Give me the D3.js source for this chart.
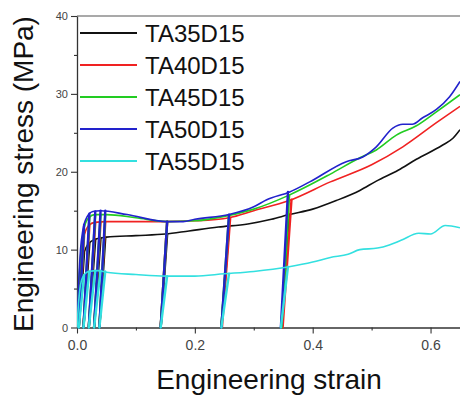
<!DOCTYPE html>
<html>
<head>
<meta charset="utf-8">
<script src="https://cdn.jsdelivr.net/npm/d3@7"></script>
<style>
  body { margin: 0; background: #fff; }
  svg { display: block; font-family: "Liberation Sans", Arial, sans-serif; }
</style>
</head>
<body>
<script>
// series names + colours
const seriesNames = ["TA35D15", "TA40D15", "TA45D15", "TA50D15", "TA55D15"];
const seriesColors = ["#111111", "#f02222", "#22cc22", "#2222cc", "#33e0e0"];

// ticks
const strainTicks = [0, 0.2, 0.4, 0.6];
const strainMinor = [0.1, 0.3, 0.5];
const stressTicks = [0, 10, 20, 30, 40];
const stressMinor = [5, 15, 25, 35];

// envelope curves [strain, stress MPa]
const envTA35 = [[0,0],[0.003,4],[0.006,7],[0.01,9],[0.015,10.2],[0.02,10.8],[0.03,11.3],[0.05,11.6],[0.1,11.8],[0.15,12.0],[0.19,12.4],[0.24,12.9],[0.29,13.3],[0.33,13.9],[0.36,14.5],[0.4,15.2],[0.44,16.3],[0.48,17.6],[0.508,18.8],[0.545,20.2],[0.576,21.6],[0.62,23.4],[0.638,24.3],[0.65,25.4]];
const envTA40 = [[0,0],[0.003,5],[0.006,8.5],[0.01,11],[0.015,12.5],[0.02,13.1],[0.03,13.5],[0.05,13.6],[0.1,13.6],[0.15,13.6],[0.2,13.7],[0.258,14.1],[0.3,15.0],[0.36,16.3],[0.43,18.7],[0.5,20.9],[0.553,23.2],[0.61,26.3],[0.65,28.4]];
const envTA45 = [[0,0],[0.003,5.5],[0.006,9],[0.01,12],[0.015,13.5],[0.02,14.1],[0.03,14.5],[0.05,14.5],[0.1,14.1],[0.153,13.6],[0.2,13.7],[0.258,14.4],[0.3,15.2],[0.36,17.0],[0.43,19.7],[0.48,21.8],[0.508,22.8],[0.542,24.7],[0.576,25.9],[0.61,27.7],[0.65,29.9]];
const envTA50 = [[0,0],[0.003,6],[0.006,10],[0.01,12.5],[0.017,14.2],[0.027,14.9],[0.04,15.0],[0.085,14.5],[0.153,13.6],[0.18,13.6],[0.2,13.9],[0.258,14.5],[0.3,15.5],[0.322,16.4],[0.361,17.4],[0.395,18.7],[0.457,21.3],[0.485,21.9],[0.508,23.2],[0.536,25.6],[0.553,26.1],[0.569,26.1],[0.586,26.9],[0.61,28.0],[0.632,29.6],[0.65,31.6]];
const envTA55 = [[0,0],[0.002,2.5],[0.005,5],[0.01,6.5],[0.02,7.2],[0.035,7.3],[0.05,7.1],[0.1,6.8],[0.15,6.6],[0.2,6.6],[0.25,6.9],[0.3,7.2],[0.36,7.8],[0.4,8.4],[0.43,9.0],[0.46,9.4],[0.48,10.0],[0.51,10.2],[0.53,10.6],[0.55,11.2],[0.58,12.1],[0.6,12.0],[0.625,13.1],[0.65,12.8]];

// unload/reload cycles [top strain, top stress, residual strain]
const cycTA35 = [[0.012,9.6,0.003],[0.021,10.8,0.011],[0.031,11.3,0.02],[0.04,11.5,0.029],[0.048,11.6,0.038],[0.153,12.0,0.142],[0.258,13.0,0.245],[0.36,14.5,0.347]];
const cycTA40 = [[0.012,11.8,0.003],[0.021,13.1,0.011],[0.031,13.5,0.02],[0.04,13.6,0.029],[0.048,13.6,0.038],[0.153,13.6,0.142],[0.26,14.1,0.246],[0.364,16.4,0.349]];
const cycTA45 = [[0.012,12.7,0.003],[0.021,14.1,0.011],[0.031,14.5,0.02],[0.04,14.5,0.029],[0.048,14.5,0.038],[0.153,13.6,0.142],[0.258,14.4,0.245],[0.36,17.0,0.347]];
const cycTA50 = [[0.012,13.2,0.003],[0.021,14.6,0.011],[0.031,14.9,0.02],[0.04,15.0,0.029],[0.048,15.0,0.038],[0.153,13.6,0.142],[0.258,14.5,0.245],[0.358,17.4,0.346]];
const cycTA55 = [[0.012,6.7,0.003],[0.021,7.2,0.011],[0.031,7.3,0.02],[0.04,7.3,0.029],[0.048,7.2,0.038],[0.153,6.6,0.142],[0.258,6.9,0.245],[0.358,7.8,0.346]];

const envelopes = [envTA35, envTA40, envTA45, envTA50, envTA55];
const cycles = [cycTA35, cycTA40, cycTA45, cycTA50, cycTA55];

const W = 460, H = 399;
const mLeft = 77, mTop = 16, mRight = 460, mBottom = 327.5;

const svg = d3.select("body").append("svg")
  .attr("width", W)
  .attr("height", H);

const x = d3.scaleLinear().domain([0, 0.65]).range([mLeft, mRight]);
const y = d3.scaleLinear().domain([0, 40]).range([mBottom, mTop]);

svg.append("defs").append("clipPath").attr("id", "plot")
  .append("rect").attr("x", mLeft).attr("y", mTop).attr("width", mRight - mLeft).attr("height", mBottom - mTop + 2);

// frame top line
svg.append("line")
  .attr("x1", mLeft).attr("x2", mRight).attr("y1", mTop).attr("y2", mTop)
  .attr("stroke", "#555").attr("stroke-width", 1.2);

// axes
const xAxis = svg.append("g").attr("transform", `translate(0,${mBottom})`)
  .call(d3.axisBottom(x).tickValues(strainTicks).tickFormat(d3.format(".1f")).tickSize(6).tickSizeOuter(0));
svg.append("g").attr("transform", `translate(0,${mBottom})`)
  .call(d3.axisBottom(x).tickValues(strainMinor).tickFormat("").tickSize(3).tickSizeOuter(0))
  .select(".domain").remove();
const yAxis = svg.append("g").attr("transform", `translate(${mLeft},0)`)
  .call(d3.axisLeft(y).tickValues(stressTicks).tickSize(6).tickSizeOuter(0));
svg.append("g").attr("transform", `translate(${mLeft},0)`)
  .call(d3.axisLeft(y).tickValues(stressMinor).tickFormat("").tickSize(3).tickSizeOuter(0))
  .select(".domain").remove();

svg.selectAll(".domain").attr("stroke", "#333").attr("stroke-width", 1.3);
svg.selectAll(".tick line").attr("stroke", "#333").attr("stroke-width", 1.1);
xAxis.selectAll("text").attr("font-size", 14).attr("fill", "#444").attr("dy", "0.95em");
yAxis.selectAll("text").attr("font-size", 11).attr("fill", "#444").attr("x", -9);

// curves
const line = d3.line()
  .x(d => x(d[0]))
  .y(d => y(d[1]))
  .curve(d3.curveMonotoneX);

const plot = svg.append("g").attr("clip-path", "url(#plot)");

seriesNames.forEach((name, i) => {
  const g = plot.append("g");
  g.append("path")
    .datum(envelopes[i])
    .attr("d", line)
    .attr("fill", "none")
    .attr("stroke", seriesColors[i])
    .attr("stroke-width", 1.6);
  g.selectAll("line.cyc")
    .data(cycles[i])
    .enter()
    .append("line")
    .attr("x1", d => x(d[0]))
    .attr("y1", d => y(d[1]))
    .attr("x2", d => x(d[2]))
    .attr("y2", y(0))
    .attr("stroke", seriesColors[i])
    .attr("stroke-width", 2.4)
    .attr("stroke-linecap", "round");
});

// legend
const legend = svg.append("g");
seriesNames.forEach((name, i) => {
  const ly = 33 + i * 32;
  legend.append("line")
    .attr("x1", 80).attr("x2", 137).attr("y1", ly).attr("y2", ly)
    .attr("stroke", seriesColors[i]).attr("stroke-width", 1.8);
  legend.append("text")
    .attr("x", 145).attr("y", ly + 8.5)
    .attr("font-size", 24)
    .attr("fill", "#111")
    .text(name);
});

// axis titles
svg.append("text")
  .attr("x", 269).attr("y", 389)
  .attr("text-anchor", "middle")
  .attr("font-size", 28)
  .attr("fill", "#111")
  .text("Engineering strain");

svg.append("text")
  .attr("transform", "translate(33,174) rotate(-90)")
  .attr("text-anchor", "middle")
  .attr("font-size", 28)
  .attr("fill", "#111")
  .text("Engineering stress (MPa)");
</script>
</body>
</html>
